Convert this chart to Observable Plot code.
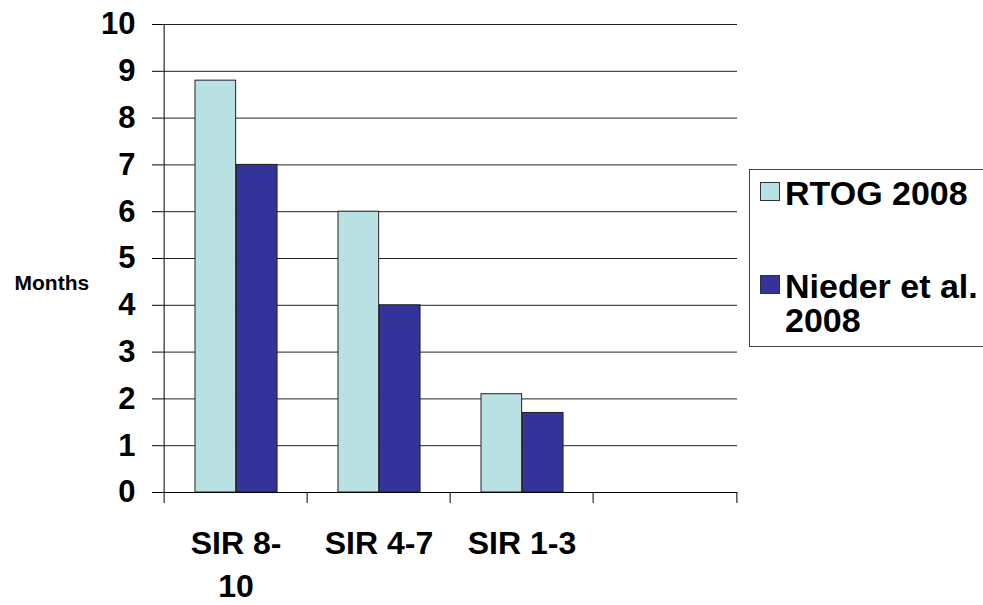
<!DOCTYPE html>
<html><head><meta charset="utf-8">
<script src="https://cdn.jsdelivr.net/npm/d3@7"></script>
<script src="https://cdn.jsdelivr.net/npm/@observablehq/plot@0.6"></script>
<style>
html,body{margin:0;padding:0;background:#fff;overflow:hidden;}
#wrap{position:relative;width:983px;height:605px;overflow:hidden;}
.legend{position:absolute;left:749px;top:169px;width:260px;height:176px;border:1px solid #444;background:#fff;
  font-family:"Liberation Sans",Arial,sans-serif;font-weight:bold;font-size:34px;color:#000;}
.legend .sw{position:absolute;left:10px;width:18px;height:17px;border:1px solid #333;}
.legend .lab{position:absolute;left:35px;width:210px;line-height:34px;white-space:normal;}
</style>
</head><body>
<div id="wrap"></div>
<script>
// ---- data ----
const slots = ["SIR 8-10", "SIR 4-7", "SIR 1-3", "(empty)"];
const slotLabels = ["SIR 8-\n10", "SIR 4-7", "SIR 1-3", ""];
const categories = ["SIR 8-10", "SIR 4-7", "SIR 1-3"];
const seriesNames = ["RTOG 2008", "Nieder et al. 2008"];
const rtogValues = [8.8, 6.0, 2.1];
const niederValues = [7.0, 4.0, 1.7];
const yTicks = [0, 1, 2, 3, 4, 5, 6, 7, 8, 9, 10];
const colors = ["#b9e0e3", "#333399"];
const yLabel = "Months";

const rtogRows = categories.map((c, i) => ({category: c, series: seriesNames[0], value: rtogValues[i]}));
const niederRows = categories.map((c, i) => ({category: c, series: seriesNames[1], value: niederValues[i]}));

const W = 983, H = 605, mL = 162, mR = 246, mT = 24, mB = 113;
const bw = (W - mL - mR) / slots.length;

const chart = Plot.plot({
  width: W, height: H,
  marginLeft: mL, marginRight: mR, marginTop: mT, marginBottom: mB,
  style: {fontFamily: "'Liberation Sans', Arial, sans-serif", fontWeight: "bold", background: "#fff", color: "#000"},
  x: {type: "band", domain: slots, padding: 0, axis: null},
  y: {domain: [0, 10], axis: null},
  marks: [
    Plot.gridY(yTicks, {stroke: "#222", strokeOpacity: 1, strokeWidth: 1}),
    Plot.barY(rtogRows, {x: "category", y: "value", fill: colors[0], stroke: "#222", strokeWidth: 1,
      insetLeft: 31, insetRight: bw - 31 - 41.4}),
    Plot.barY(niederRows, {x: "category", y: "value", fill: colors[1], stroke: "#222", strokeWidth: 1,
      insetLeft: 31 + 41.4, insetRight: bw - 31 - 82.8}),
    Plot.ruleY([0], {stroke: "#000", strokeWidth: 1}),
    Plot.ruleX([slots[0]], {x: d => d, y1: 10, y2: 0, dx: -bw / 2, stroke: "#000", strokeWidth: 1}),
    Plot.ruleX(slots, {x: d => d, y1: 0, y2: 0, insetBottom: -11, dx: -bw / 2, stroke: "#000"}),
    Plot.ruleX([slots[slots.length - 1]], {x: d => d, y1: 0, y2: 0, insetBottom: -11, dx: bw / 2, stroke: "#000"}),
    Plot.axisY({ticks: yTicks, tickSize: 10, tickPadding: 17, fontSize: 31, fontWeight: "bold", label: null, stroke: "#000"}),
    Plot.text(slots, {x: d => d, text: (d, i) => slotLabels[i], frameAnchor: "bottom", lineAnchor: "top",
      dy: 32, fontSize: 32, fontWeight: "bold", lineHeight: 1.32, fill: "#000"}),
    Plot.text([yLabel], {text: d => d, frameAnchor: "left", textAnchor: "start", dx: -148, dy: 25,
      fontSize: 21, fontWeight: "bold", fill: "#000"})
  ]
});
const wrap = document.getElementById("wrap");
wrap.appendChild(chart);

// ---- legend ----
const legend = document.createElement("div");
legend.className = "legend";
const swTops = [12, 105], labTops = [6, 99];
seriesNames.forEach((name, i) => {
  const sw = document.createElement("div");
  sw.className = "sw";
  sw.style.top = swTops[i] + "px";
  sw.style.background = colors[i];
  const lab = document.createElement("div");
  lab.className = "lab";
  lab.style.top = labTops[i] + "px";
  lab.textContent = name;
  legend.appendChild(sw);
  legend.appendChild(lab);
});
wrap.appendChild(legend);
</script>
</body></html>
